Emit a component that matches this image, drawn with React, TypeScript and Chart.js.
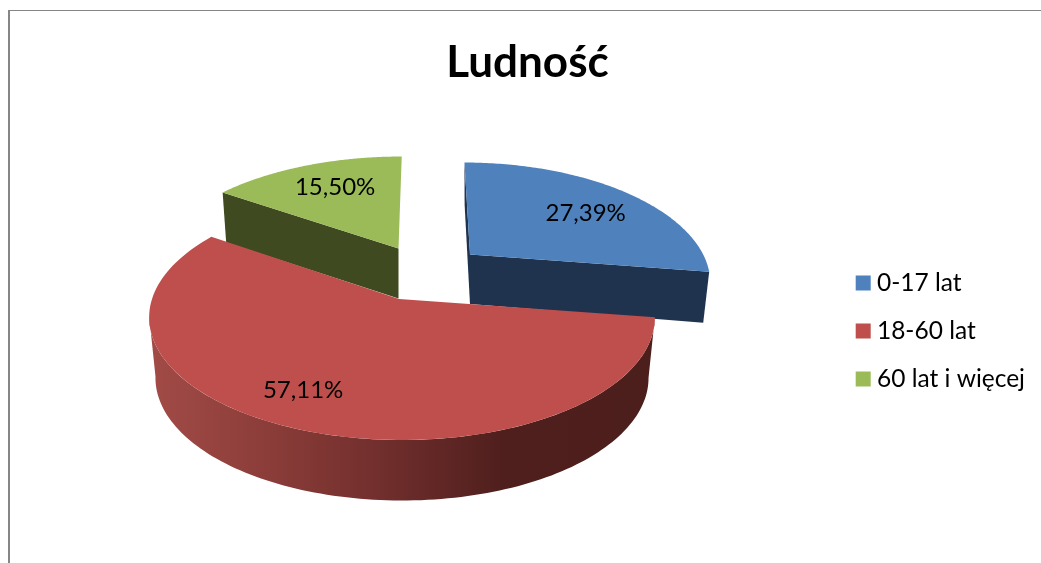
import React, { useEffect, useRef } from "react";
import { Chart, registerables } from "chart.js";

Chart.register(...registerables);

const chartTitle = "Ludność";
const categories = ["0-17 lat", "18-60 lat", "60 lat i więcej"];
const shares = [27.39, 57.11, 15.5];
const faceColors = ["#4F81BD", "#BE4F4C", "#9BBB59"];
const wallColors = ["#1F334F", "#6C2D2B", "#404A20"];
const FONT = "Lato, Carlito, Calibri, sans-serif";

// Perspective of each (exploded) slice: how the unit disc maps onto the page.
const projections = [
  { apexX: 470, originX: 470, apexY: 254.5, A: 247, sx: 0.944, a: 111.65, c: -0.2137, k: 0.06, depth: 49.5, dk: 0.08, bottomSx: 0.975, walls: ["start", "end"], label: [0.55, -0.4] },
  { apexX: 399, originX: 402, apexY: 299, A: 250, sx: 1, a: 119.85, c: -0.15, k: 0, depth: 60.5, dk: 0, bottomSx: 0.975, walls: ["outer"], label: [-0.355, 0.682] },
  { apexX: 398.5, originX: 398.5, apexY: 248.5, A: 247, sx: 0.975, a: 111.65, c: -0.2137, k: -0.035, depth: 50, dk: 0, bottomSx: 0.98, walls: ["start"], label: [-0.308, -0.6185] },
];
const drawOrder = [0, 2, 1];

type Proj = (typeof projections)[number];

function project(p: Proj, u: number, v: number) {
  const d = 1 + p.c * v;
  const yRel = (p.a * v) / d;
  return { x: p.originX + (p.sx * p.A * u) / d + p.k * yRel, y: p.apexY + yRel };
}
function lower(p: Proj, q: { x: number; y: number }) {
  return {
    x: p.originX + (q.x - p.originX) * p.bottomSx,
    y: q.y + p.depth + p.dk * (q.y - p.apexY),
  };
}
function arcPoints(p: Proj, a0: number, a1: number) {
  const n = 120;
  const pts = [];
  for (let i = 0; i <= n; i++) {
    const a = a0 + ((a1 - a0) * i) / n;
    pts.push(project(p, Math.cos(a), Math.sin(a)));
  }
  return pts;
}
function fillPoly(ctx: CanvasRenderingContext2D, pts: { x: number; y: number }[], fill: any) {
  ctx.beginPath();
  pts.forEach((q, i) => (i ? ctx.lineTo(q.x, q.y) : ctx.moveTo(q.x, q.y)));
  ctx.closePath();
  ctx.fillStyle = fill;
  ctx.fill();
}

const pie3d = {
  id: "pie3d",
  beforeDatasetDraw(chart: any, args: any) {
    const ctx: CanvasRenderingContext2D = chart.ctx;
    const arcs = args.meta.data;
    ctx.save();
    drawOrder.forEach((i) => {
      const p = projections[i];
      const { startAngle, endAngle } = arcs[i];
      const apex = { x: p.apexX, y: p.apexY };
      const apexLow = { x: p.apexX, y: p.apexY + p.depth };
      const rim = arcPoints(p, startAngle, endAngle);
      p.walls.forEach((w) => {
        if (w === "outer") {
          const lim0 = Math.max(startAngle, 0.14);
          const lim1 = Math.min(endAngle, Math.PI - 0.14);
          const top = arcPoints(p, lim0, lim1);
          const xs = top.map((q) => q.x);
          const g = ctx.createLinearGradient(Math.min(...xs), 0, Math.max(...xs), 0);
          g.addColorStop(0, "#A24B47");
          g.addColorStop(0.2, "#8F3F3B");
          g.addColorStop(0.45, "#722F2D");
          g.addColorStop(0.7, "#4F1F1D");
          g.addColorStop(1, "#4C1E1C");
          fillPoly(ctx, [...top, ...top.map((q) => lower(p, q)).reverse()], g);
        } else {
          const q = w === "start" ? rim[0] : rim[rim.length - 1];
          fillPoly(ctx, [apex, q, lower(p, q), apexLow], wallColors[i]);
        }
      });
      fillPoly(ctx, [apex, ...rim], faceColors[i]);
    });
    ctx.restore();
    return false;
  },
  afterDraw(chart: any) {
    const ctx: CanvasRenderingContext2D = chart.ctx;
    ctx.save();
    // frame of the chart object: only its top and left edges are inside the picture
    ctx.fillStyle = "#868686";
    ctx.fillRect(8, 10, 2, chart.height - 10);
    ctx.fillRect(8, 10, chart.width - 8, 1);
    ctx.fillStyle = "#000";
    ctx.font = `24px ${FONT}`;
    ctx.textAlign = "center";
    ctx.textBaseline = "middle";
    shares.forEach((s, i) => {
      const p = projections[i];
      const q = project(p, p.label[0], p.label[1]);
      ctx.fillText(s.toFixed(2).replace(".", ",") + "%", q.x, q.y);
    });
    ctx.restore();
  },
};

export default function App() {
  const ref = useRef<HTMLCanvasElement>(null);
  useEffect(() => {
    const chart = new Chart(ref.current!, {
      type: "pie",
      data: {
        labels: categories,
        datasets: [{ data: shares, backgroundColor: faceColors, borderWidth: 0 }],
      },
      plugins: [pie3d],
      options: {
        responsive: false,
        animation: false,
        events: [],
        layout: { padding: { left: 20, top: 36, right: 6, bottom: -63 } },
        plugins: {
          tooltip: { enabled: false },
          title: {
            display: true,
            text: chartTitle,
            color: "#000",
            font: { family: FONT, size: 44, weight: "bold", lineHeight: 1.2 },
            padding: { top: 0, bottom: 8 },
          },
          legend: {
            position: "right",
            labels: {
              color: "#000",
              font: { family: FONT, size: 24.5 },
              boxWidth: 3,
              boxHeight: 3,
              padding: 23.5,
              generateLabels: () =>
                categories.map((text, index) => ({
                  text,
                  index,
                  fillStyle: faceColors[index],
                  strokeStyle: faceColors[index],
                  lineWidth: 12,
                  fontColor: "#000",
                  hidden: false,
                })),
            },
          },
        },
      },
    } as any);
    return () => chart.destroy();
  }, []);
  return (
    <div style={{ position: "absolute", left: 0, top: 0, width: 1041, height: 563, background: "#fff" }}>
      <canvas ref={ref} width={1041} height={563} style={{ display: "block" }} />
    </div>
  );
}
